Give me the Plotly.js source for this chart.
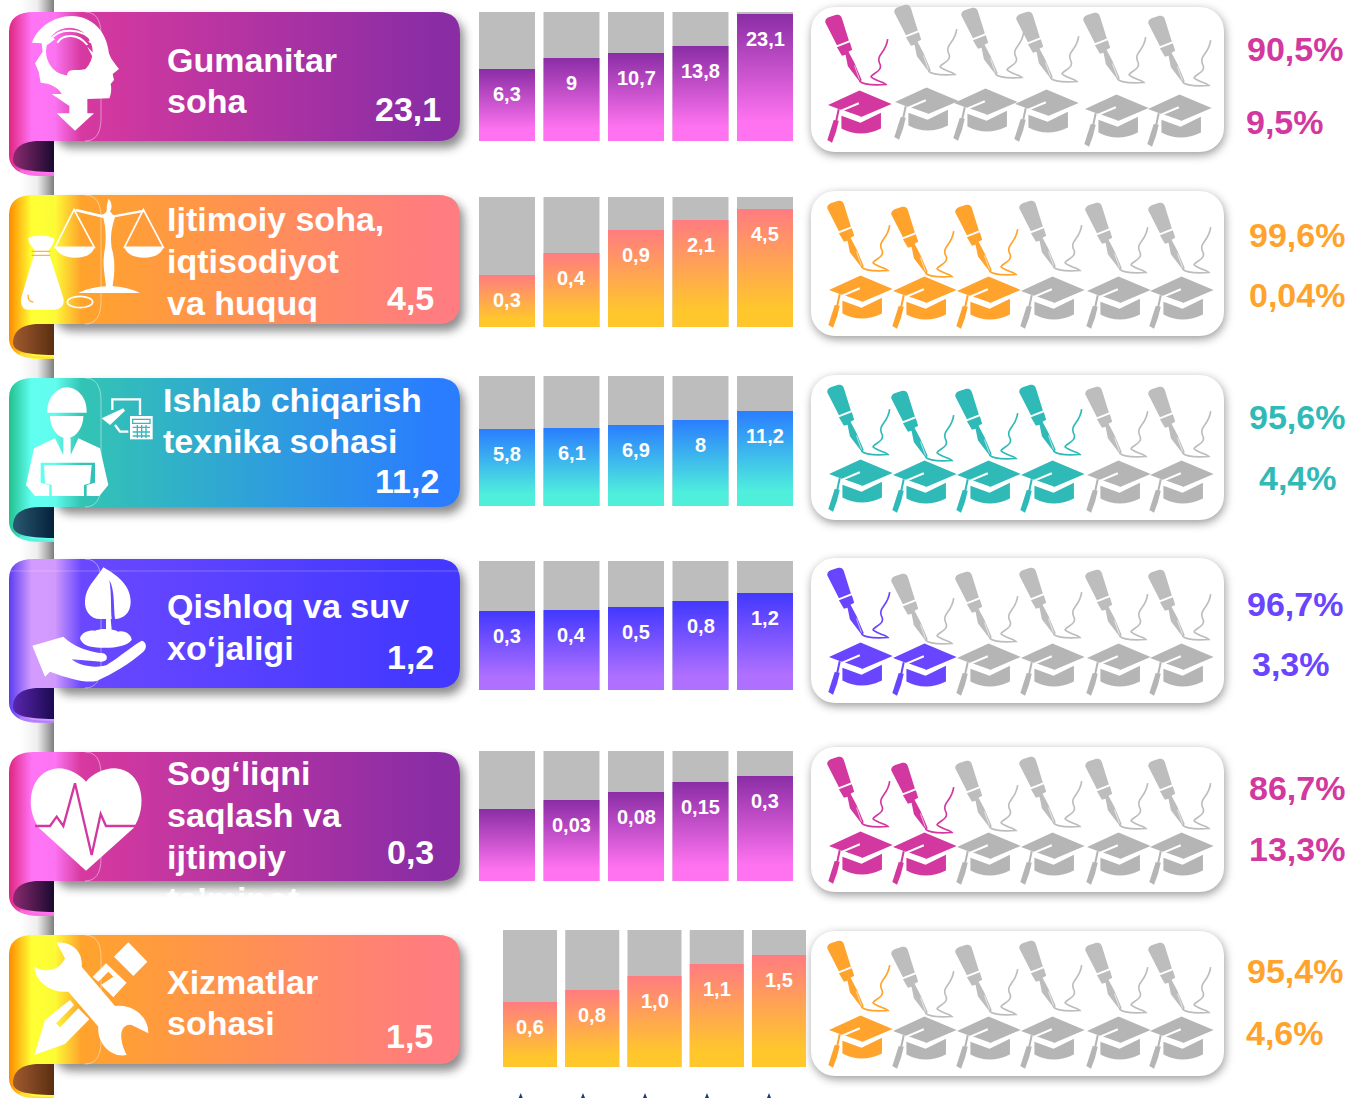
<!DOCTYPE html>
<html><head><meta charset="utf-8">
<script src="https://cdn.plot.ly/plotly-3.0.1.min.js"></script>
<style>html,body{margin:0;padding:0;background:#fff;overflow:hidden}#chart{width:1347px;height:1098px}</style>
</head><body><div id="chart"></div>
<script>
// ---------- DATA ----------
const periods = ["1","2","3","4","5"];
const sectorLines1 = ["Gumanitar","soha"];
const sectorLines2 = ["Ijtimoiy soha,","iqtisodiyot","va huquq"];
const sectorLines3 = ["Ishlab chiqarish","texnika sohasi"];
const sectorLines4 = ["Qishloq va suv","xo‘jaligi"];
const sectorLines5 = ["Sog‘liqni","saqlash va","ijtimoiy","ta’minot"];
const sectorLines6 = ["Xizmatlar","sohasi"];
const sectorTotals = ["23,1","4,5","11,2","1,2","0,3","1,5"];
// visible height of each coloured bar, as a percentage of its grey column
const fill1 = [55.8,64.3,68.2,73.6,98.4];
const fill2 = [40,56.9,74.6,82.3,90.8];
const fill3 = [59.2,60,62.3,66.2,73.1];
const fill4 = [61.2,62,64.3,69,75.2];
const fill5 = [55.4,62.3,68.5,76.2,80.8];
const fill6 = [47.4,56.2,66.4,75.2,81.8];
const full = [100,100,100,100,100];
const labels1 = ["6,3","9","10,7","13,8","23,1"];
const labels2 = ["0,3","0,4","0,9","2,1","4,5"];
const labels3 = ["5,8","6,1","6,9","8","11,2"];
const labels4 = ["0,3","0,4","0,5","0,8","1,2"];
const labels5 = ["","0,03","0,08","0,15","0,3"];
const labels6 = ["0,6","0,8","1,0","1,1","1,5"];
const pensColoured = [1,3,4,1,2,1];
const capsColoured = [1,3,4,2,2,1];
const shareA = ["90,5%","99,6%","95,6%","96,7%","86,7%","95,4%"];
const shareB = ["9,5%","0,04%","4,4%","3,3%","13,3%","4,6%"];

// ---------- LAYOUT GEOMETRY ----------
const W=1347,H=1098;
const px=x=>x/W, py=y=>1-y/H;
const groups=[
 {fill:fill1,labels:labels1,lines:sectorLines1,top:12,barTop:12,barBot:141,l:474.75,r:797.25,card:7,textX:166,lineY:[60,101],totX:442,totY:109,pal:0,aX:1246,aY:49,bX:1245,bY:122},
 {fill:fill2,labels:labels2,lines:sectorLines2,top:195,barTop:197,barBot:327,l:474.75,r:797.25,card:191,textX:166,lineY:[219,261,303],totX:435,totY:298,pal:1,aX:1248,aY:235,bX:1248,bY:295},
 {fill:fill3,labels:labels3,lines:sectorLines3,top:378,barTop:376,barBot:506,l:474.75,r:797.25,card:375,textX:162,lineY:[400,441],totX:440,totY:481,pal:2,aX:1248,aY:417,bX:1258,bY:478},
 {fill:fill4,labels:labels4,lines:sectorLines4,top:559,barTop:561,barBot:690,l:474.75,r:797.25,card:558,textX:166,lineY:[606,648],totX:435,totY:657,pal:3,aX:1246,aY:604,bX:1251,bY:664},
 {fill:fill5,labels:labels5,lines:sectorLines5,top:752,barTop:751,barBot:881,l:474.75,r:797.25,card:747,textX:166,lineY:[773,815,857,899],totX:435,totY:852,pal:0,aX:1248,aY:788,bX:1248,bY:849},
 {fill:fill6,labels:labels6,lines:sectorLines6,top:935,barTop:930,barBot:1067,l:498.9,r:810.1,card:931,textX:166,lineY:[982,1023],totX:434,totY:1036,pal:1,aX:1246,aY:971,bX:1245,bY:1033}
];
const palettes=[
 {c0:"#e0257f",c1:"#ff73f5",c2:"#d7399f",c3:"#8a2da5",d0:"#8b2a70",d1:"#1a0a30",rim:"#ff6ee0",barTop:"#8a2da5",barBot:"#ff73f0",text:"#d2389f"},
 {c0:"#ff8a00",c1:"#ffff33",c2:"#ffa32c",c3:"#ff7c80",d0:"#a05a30",d1:"#5a2f10",rim:"#ffe040",barTop:"#ff7c80",barBot:"#ffc72c",text:"#ffa32c"},
 {c0:"#22c08f",c1:"#60fff0",c2:"#33c4b4",c3:"#2a7dff",d0:"#2a5a70",d1:"#04203a",rim:"#5cf0e0",barTop:"#2a7dff",barBot:"#4fefdc",text:"#2fbab8"},
 {c0:"#5a3df0",c1:"#d39aff",c2:"#6a48ff",c3:"#4238ff",d0:"#5a25b0",d1:"#1c0a50",rim:"#b080ff",barTop:"#4238ff",barBot:"#b070ff",text:"#6a45ff"}
];
const uri=s=>'data:image/svg+xml;charset=utf-8,'+encodeURIComponent(s);
const img=(svg,x,y,w,h)=>({source:uri(svg),xref:'paper',yref:'paper',x:px(x),y:py(y),sizex:w/W,sizey:h/H,xanchor:'left',yanchor:'top',sizing:'stretch',layer:'below'});

// Icons, drawn in 3x coordinates of a 470 x 190 box
const iconPaths=[
 `<path fill-rule="evenodd" fill="#fff" d="M96 128C110 85 160 48 215 48C275 48 320 95 326 155C330 175 345 190 357 207L338 222L342 240L332 252C336 270 332 285 328 295L262 297L262 340L282 340L225 392L170 340L208 340L208 318L155 282L185 282C175 262 150 250 122 248L116 215L105 190L128 155L125 130ZM138 155a70 72 0 1 0 140 0a70 72 0 1 0 -140 0Z"/>
  <path fill="#fff" d="M262 140C270 160 285 170 272 190L262 205C240 215 215 205 205 215C195 225 210 245 222 257L240 235L262 225L290 170Z"/>
  <path fill="none" stroke="#fff" stroke-width="6" d="M152 120C175 82 245 82 280 125M172 128C190 100 235 100 262 135"/>
  <path fill="#fff" d="M140 100L165 118L142 135ZM290 140L265 125L285 105Z"/>`,
 `<g transform="translate(0,-6)"><path fill="#fff" d="M325 33C335 40 338 60 330 70L340 82L430 65L432 72L345 88C335 120 330 140 335 180C350 230 340 275 338 295C370 297 400 305 420 315L235 315C255 305 285 297 318 295C315 260 305 230 315 180C320 140 315 110 310 90L225 70L228 62L305 80C318 78 322 70 320 55Z"/>
  <path fill="none" stroke="#fff" stroke-width="5" d="M222 65L165 178L283 178ZM430 65L373 178L490 178Z"/>
  <path fill="#fff" d="M165 178L283 178C275 220 180 220 165 178ZM373 178L490 178C480 220 385 220 373 178Z"/>
  <path fill="#fff" d="M85 150C100 140 160 140 163 155C160 170 150 180 145 190L190 330C195 355 180 365 160 365L85 365C65 365 60 345 65 325L105 190C100 175 85 170 85 150Z"/>
  <path fill="none" stroke="#ffb52c" stroke-width="4" d="M95 190L150 190M95 202L150 202M85 320Q82 340 100 342"/>
  <ellipse cx="240" cy="342" rx="38" ry="17" fill="none" stroke="#fff" stroke-width="5"/></g>`,
 `<path fill="#fff" d="M142 128C140 90 165 55 200 52C240 55 262 90 260 128ZM150 138L250 138C250 175 225 205 200 205C175 205 150 175 150 138ZM165 205L190 255L190 205L212 205L212 255L235 205L300 235L325 345L298 378L260 378L260 345L285 338L285 278L122 278L122 338L148 345L148 378L105 378L78 345L102 235Z"/>
  <path fill="#fff" d="M132 285L275 285L270 340L252 345L252 378L155 378L155 345L135 340Z"/>
  <path fill="none" stroke="#fff" stroke-width="7" d="M337 120L337 88L420 88L420 135M345 165L360 185L385 185"/>
  <path fill="#fff" d="M305 145L370 115L375 122L330 165Z"/>
  <rect x="390" y="138" width="68" height="70" fill="#fff"/>
  <path fill="none" stroke="#35b8c0" stroke-width="4" d="M398 148H450V160H398ZM398 172H450M398 186H450M398 198H450M412 165V204M425 165V204M438 165V204"/>`,
 `<path fill="#fff" d="M310 52C350 75 392 105 392 155C392 190 370 205 345 207C340 170 345 120 328 90C335 130 332 175 335 207L305 207C270 210 252 180 255 150C258 110 290 85 310 52ZM318 205L332 205L335 240L318 240ZM240 265C245 245 270 240 285 242C300 235 340 235 355 245C375 240 395 255 395 270C380 290 340 295 300 293C270 293 245 285 240 265ZM97 287L190 260C220 290 265 305 310 310C325 315 325 335 305 335L215 328C240 350 290 355 320 345C360 320 400 285 425 272C440 275 442 295 430 305C390 340 340 370 290 393C255 400 205 385 150 365L135 380Z"/>`,
 `<path fill="#fff" d="M258 392L118 265C70 200 90 90 175 85C210 85 240 105 258 125C275 105 305 85 345 85C430 90 445 200 400 265Z"/>
  <path fill="none" stroke="#d2389f" stroke-width="7" d="M105 258L150 258L170 230L190 258L225 130L275 345L302 222L318 258L410 258"/>`,
 `<path fill="#fff" d="M170 68C215 65 250 95 245 140L345 258C400 250 445 290 445 340L395 315C365 310 350 345 380 405C335 415 290 370 295 320L205 215C155 220 105 185 103 140C125 155 175 160 195 115ZM103 405L135 300L210 240L222 255L168 310L180 322L235 265L268 298L195 372ZM385 67L442 125L400 168L342 110ZM318 130L380 188L340 232L303 195L340 170L325 155L295 185L278 170Z"/>`
];
const iconOffset=[0,-1,2,3,0,3]; // vertical offset (3x units /3) between crop and banner reference
function bannerSvg(g,i){
 const p=palettes[g.pal];
 const extra = i===3 ? '<path d="M9 24H460" stroke="#fff" stroke-opacity=".25" stroke-width="1"/>' : '';
 return `<svg xmlns="http://www.w3.org/2000/svg" width="480" height="210" viewBox="0 0 480 210">
 <defs><linearGradient id="b" gradientUnits="userSpaceOnUse" x1="9" y1="0" x2="460" y2="0">
 <stop offset="0" stop-color="${p.c0}"/><stop offset=".05" stop-color="${p.c1}"/><stop offset=".1" stop-color="${p.c1}" stop-opacity=".97"/><stop offset=".16" stop-color="${p.c2}"/><stop offset=".94" stop-color="${p.c3}"/><stop offset="1" stop-color="${p.c3}"/></linearGradient>
 <linearGradient id="d" x1="0" y1="0" x2="1" y2="0"><stop offset="0" stop-color="${p.d0}"/><stop offset="1" stop-color="${p.d1}"/></linearGradient>
 <filter id="s" x="-10%" y="-30%" width="120%" height="170%"><feGaussianBlur stdDeviation="5"/></filter></defs>
 <rect x="54" y="18" width="410" height="130" rx="18" fill="#333" opacity=".55" filter="url(#s)"/>
 <path d="M9 32Q9 12 34 12L438 12Q460 12 460 34L460 119Q460 141 438 141L54 141L54 176L40 176C20 176 9 168 9 155Z" fill="url(#b)"/>
 <path d="M54 141L40 141C22 141 13 148 13 160C13 168 25 172 54 172Z" fill="url(#d)"/>
 <path d="M20 171Q32 175 54 175" fill="none" stroke="${p.rim}" stroke-width="2"/>
 <path d="M85 12Q101 12 101 35L101 118Q101 141 85 141" fill="none" stroke="#fff" stroke-opacity=".55" stroke-width=".8"/>
 ${extra}</svg>`;
}
function iconSvg(i){
 return `<svg xmlns="http://www.w3.org/2000/svg" width="480" height="190" viewBox="0 0 1440 570">${iconPaths[i]}</svg>`;
}
const cardSvg=`<svg xmlns="http://www.w3.org/2000/svg" width="450" height="180" viewBox="0 0 450 180"><defs><filter id="s" x="-10%" y="-20%" width="120%" height="140%"><feGaussianBlur stdDeviation="5"/></filter></defs>
<rect x="16" y="17" width="413" height="145" rx="24" fill="#444" opacity=".55" filter="url(#s)"/><rect x="15" y="14" width="413" height="145" rx="24" fill="#fff"/></svg>`;
const stripSvg=`<svg xmlns="http://www.w3.org/2000/svg" width="54" height="1098"><defs><linearGradient id="g"><stop offset="0" stop-color="#666" stop-opacity="0"/><stop offset=".5" stop-color="#777" stop-opacity=".12"/><stop offset="1" stop-color="#666" stop-opacity=".85"/></linearGradient></defs><rect x="20" width="34" height="1098" fill="url(#g)"/></svg>`;
function penSvg(c){return `<svg xmlns="http://www.w3.org/2000/svg" width="68" height="74" viewBox="55 40 205 222">
 <path fill="${c}" d="M62 68Q60 58 72 52L95 45Q108 42 112 55L133 122L97 137ZM97 143L136 128L143 150L132 156L150 190L172 242L165 246L130 200L123 165L112 168Z"/>
 <path d="M150 198L165 240" stroke="#fff" stroke-width="2"/>
 <path fill="none" stroke="${c}" stroke-width="5" d="M250 118C245 160 215 165 225 190C240 215 200 222 200 232C215 245 240 248 245 255C200 258 175 255 165 245"/></svg>`;}
function capSvg(c){return `<svg xmlns="http://www.w3.org/2000/svg" width="67" height="56" viewBox="62 268 200 166">
 <path fill="${c}" d="M68 315L162 272L258 312L165 352ZM108 347L165 368L226 338L226 385Q165 415 108 385Z"/>
 <path fill="none" stroke="#fff" stroke-width="6" d="M165 352L108 332L160 310"/>
 <path fill="none" stroke="${c}" stroke-width="6" d="M100 328L92 365"/><path fill="${c}" d="M85 360L100 362L92 395L80 428L66 420Z"/></svg>`;}
const penXdefault=[825,889,953,1017,1083,1146], capXdefault=[827,891,955,1019,1085,1148];
const penY=[8,14,12,8,10,10], capY=[83,84,84,84,84,84];
const penXg0=[823,892,959,1014,1081,1146], capXg0=[826,893,952,1013,1083,1146];
const penYg0=[6,-4,-1,3,4,7], capYg0=[82,79,80,81,86,86];

const images=[img(stripSvg,0,0,54,1098)];
const annotations=[], traces=[], shapes=[], layout={};
groups.forEach((g,i)=>{
 const n=i===0?'':String(i+1), p=palettes[g.pal];
 const xa='x'+n, ya='y'+n;
 layout['xaxis'+n]={domain:[px(g.l),px(g.r)],range:[-0.5,4.5],anchor:ya,visible:false,fixedrange:true,type:'linear'};
 layout['yaxis'+n]={domain:[py(g.barBot),py(g.barTop)],range:[0,100],anchor:xa,visible:false,fixedrange:true};
 const xs=periods.map((_,k)=>k);
 traces.push({type:'bar',x:xs,y:full,xaxis:xa,yaxis:ya,marker:{color:'#bdbdbd'},hoverinfo:'skip',showlegend:false});
 traces.push({type:'bar',x:xs,y:g.fill,xaxis:xa,yaxis:ya,marker:{color:p.barBot},hoverinfo:'skip',showlegend:false});
 g.labels.forEach((t,k)=>{ if(t) annotations.push({xref:xa,yref:ya,x:k,y:g.fill[k],yshift:-25,text:t,showarrow:false,xanchor:'center',yanchor:'middle',font:{family:'Liberation Sans',size:20,color:'#fff',weight:700}}); });
 images.push(img(bannerSvg(g,i),0,g.top-12,480,210));
 images.push(img(iconSvg(i),0,[0,190,370,550,740,920][i],480,190));
 images.push(img(cardSvg,811-15,g.card-14,450,180));
 const px0=i===0?penXg0:penXdefault, cx0=i===0?capXg0:capXdefault, py0=i===0?penYg0:penY, cy0=i===0?capYg0:capY;
 for(let k=0;k<6;k++){
  images.push(img(penSvg(k<pensColoured[i]?p.text:'#bdbdbd'),px0[k],g.card+py0[k]-7+7,68,74));
  images.push(img(capSvg(k<capsColoured[i]?p.text:'#b5b5b5'),cx0[k],g.card+cy0[k],67,56));
 }
 g.lines.forEach((t,k)=>annotations.push({xref:'paper',yref:'paper',x:px(g.textX),y:py(g.lineY[k]),text:t,showarrow:false,xanchor:'left',yanchor:'middle',borderpad:0,font:{family:'Liberation Sans',size:34,color:'#fff',weight:700}}));
 annotations.push({xref:'paper',yref:'paper',x:px(g.totX),y:py(g.totY),text:sectorTotals[i],showarrow:false,xanchor:'right',yanchor:'middle',borderpad:0,font:{family:'Liberation Sans',size:34,color:'#fff',weight:700}});
 annotations.push({xref:'paper',yref:'paper',x:px(g.aX),y:py(g.aY),text:shareA[i],showarrow:false,xanchor:'left',yanchor:'middle',borderpad:0,font:{family:'Liberation Sans',size:34,color:p.text,weight:700}});
 annotations.push({xref:'paper',yref:'paper',x:px(g.bX),y:py(g.bY),text:shareB[i],showarrow:false,xanchor:'left',yanchor:'middle',borderpad:0,font:{family:'Liberation Sans',size:34,color:p.text,weight:700}});
});
[520.7,583,645,707,769].forEach(x=>shapes.push({type:'path',xref:'paper',yref:'paper',path:`M${px(x-2)} ${py(1098)}L${px(x)} ${py(1093)}L${px(x+2)} ${py(1098)}Z`,fillcolor:'#1f3a7a',line:{width:0},layer:'above'}));

Object.assign(layout,{width:W,height:H,margin:{l:0,r:0,t:0,b:0},paper_bgcolor:'#fff',plot_bgcolor:'rgba(0,0,0,0)',barmode:'overlay',bargap:0.132,showlegend:false,images,annotations,shapes});

Plotly.newPlot('chart',traces,layout,{displayModeBar:false,staticPlot:true}).then(gd=>{
 const svg=gd.querySelector('svg.main-svg');
 let defs=svg.querySelector('defs');
 const NS='http://www.w3.org/2000/svg';
 palettes.forEach((p,i)=>{
  const lg=document.createElementNS(NS,'linearGradient');
  lg.id='barGrad'+i; lg.setAttribute('x1','0');lg.setAttribute('y1','0');lg.setAttribute('x2','0');lg.setAttribute('y2','1');
  [[0,p.barTop],[.85,p.barBot],[1,p.barBot]].forEach(s=>{const st=document.createElementNS(NS,'stop');st.setAttribute('offset',s[0]);st.setAttribute('stop-color',s[1]);lg.appendChild(st);});
  defs.appendChild(lg);
 });
 const traceGroups=gd.querySelectorAll('.barlayer .trace.bars');
 traceGroups.forEach((t,idx)=>{ if(idx%2===1){ const g=groups[(idx-1)/2]; t.querySelectorAll('path').forEach(pt=>{pt.style.fill='url(#barGrad'+g.pal+')';}); }});
});
</script></body></html>
